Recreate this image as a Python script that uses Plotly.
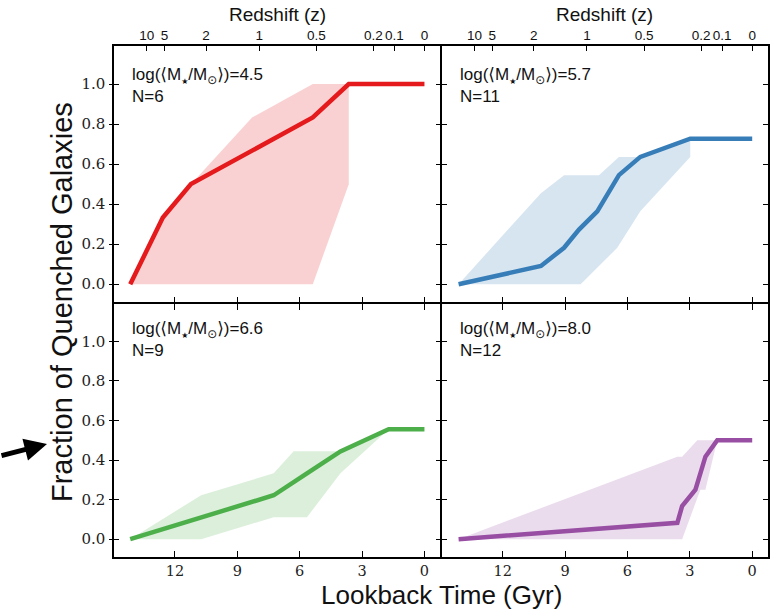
import plotly.graph_objects as go

# ---------------- data ----------------
# lookback time (Gyr) and quenched fraction for each mass bin
red_t = [14.15, 12.58, 11.23, 8.29, 5.37, 3.64, 0.0]
red_f = [0.0, 0.333, 0.5, 0.667, 0.833, 1.0, 1.0]
red_hi_t = [14.15, 12.58, 11.23, 8.29, 5.37, 3.64]
red_hi = [0.0, 0.333, 0.5, 0.833, 1.0, 1.0]
red_lo_t = [14.15, 5.37, 3.64]
red_lo = [0.0, 0.0, 0.5]

blue_t = [14.12, 10.16, 9.05, 8.33, 7.45, 6.41, 5.38, 2.98, 0.0]
blue_f = [0.0, 0.091, 0.182, 0.273, 0.364, 0.545, 0.636, 0.727, 0.727]
blue_hi_t = [14.12, 10.16, 9.05, 7.37, 6.41, 5.38, 2.98]
blue_hi = [0.0, 0.455, 0.545, 0.545, 0.636, 0.636, 0.727]
blue_lo_t = [14.12, 8.25, 6.49, 5.38, 2.98]
blue_lo = [0.0, 0.0, 0.182, 0.364, 0.636]

green_t = [14.15, 10.7, 7.25, 5.65, 4.04, 1.72, 0.0]
green_f = [0.0, 0.111, 0.222, 0.333, 0.444, 0.556, 0.556]
green_hi_t = [14.15, 10.74, 7.25, 6.29, 4.04, 1.72]
green_hi = [0.0, 0.222, 0.333, 0.444, 0.444, 0.556]
green_lo_t = [14.15, 10.74, 7.25, 5.65, 4.04, 1.72]
green_lo = [0.0, 0.0, 0.111, 0.111, 0.333, 0.556]

purple_t = [14.12, 3.6, 3.37, 2.73, 2.25, 1.68, 0.0]
purple_f = [0.0, 0.083, 0.167, 0.25, 0.417, 0.5, 0.5]
purple_hi_t = [14.12, 3.6, 3.37, 2.64, 1.68]
purple_hi = [0.0, 0.417, 0.417, 0.5, 0.5]
purple_lo_t = [14.12, 3.37, 2.49, 2.25, 1.68]
purple_lo = [0.0, 0.0, 0.25, 0.25, 0.5]

STAR = "<span style='font-size:8px'>★</span>"
panel_masses = ["4.5", "5.7", "6.6", "8.0"]
panel_counts = ["6", "11", "9", "12"]

lookback_ticks = [12, 9, 6, 3, 0]
frac_ticks = [0.0, 0.2, 0.4, 0.6, 0.8, 1.0]
frac_labels = ["0.0", "0.2", "0.4", "0.6", "0.8", "1.0"]
z_tick_t = [13.35, 12.5, 10.5, 7.95, 5.2, 2.45, 1.45, 0.0]
z_tick_labels = ["10", "5", "2", "1", "0.5", "0.2", "0.1", "0"]

colors = ["#e41a1c", "#377eb8", "#4daf4a", "#984ea3"]
fills = ["rgba(228,26,28,0.2)", "rgba(55,126,184,0.2)",
         "rgba(77,175,74,0.2)", "rgba(152,78,163,0.2)"]

# ---------------- geometry ----------------
W, H = 778, 611
LW = 1.5
xl0, xm, xr1 = 114, 441, 768
yt0, ym, yb1 = 46, 303, 557
xdoms = [[xl0 / W, (xm - LW / 2) / W], [(xm + LW / 2) / W, xr1 / W]]
ydoms = [[1 - (ym - LW / 2) / H, 1 - yt0 / H], [1 - yb1 / H, 1 - (ym + LW / 2) / H]]
XR = [14.93, -0.76]
YR = [-0.09, 1.19]

fig = go.Figure()

series = [
    (red_t, red_f, red_hi_t, red_hi, red_lo_t, red_lo),
    (blue_t, blue_f, blue_hi_t, blue_hi, blue_lo_t, blue_lo),
    (green_t, green_f, green_hi_t, green_hi, green_lo_t, green_lo),
    (purple_t, purple_f, purple_hi_t, purple_hi, purple_lo_t, purple_lo),
]

for i, (lt, lf, ht, hv, lot, lov) in enumerate(series):
    xa = "x" if i == 0 else f"x{i+1}"
    ya = "y" if i == 0 else f"y{i+1}"
    poly_x = list(ht) + list(reversed(lot))
    poly_y = list(hv) + list(reversed(lov))
    fig.add_trace(go.Scatter(x=poly_x, y=poly_y, fill="toself", fillcolor=fills[i],
                             line=dict(width=0), mode="lines", hoverinfo="skip",
                             showlegend=False, xaxis=xa, yaxis=ya))
    fig.add_trace(go.Scatter(x=lt, y=lf, mode="lines",
                             line=dict(color=colors[i], width=4.5),
                             showlegend=False, xaxis=xa, yaxis=ya))

serif = dict(family="DejaVu Serif", size=15, color="#222")
serif_x = dict(family="DejaVu Serif", size=14.5, color="#222")
sans = "Liberation Sans, Arial, Helvetica, DejaVu Sans"

layout = dict(width=W, height=H, margin=dict(l=0, r=0, t=0, b=0),
              paper_bgcolor="white", plot_bgcolor="white", showlegend=False)

for i in range(4):
    col = i % 2
    row = i // 2
    xk = "xaxis" if i == 0 else f"xaxis{i+1}"
    yk = "yaxis" if i == 0 else f"yaxis{i+1}"
    ya_id = "y" if i == 0 else f"y{i+1}"
    xa_id = "x" if i == 0 else f"x{i+1}"
    layout[xk] = dict(domain=xdoms[col], range=XR, anchor=ya_id,
                      showgrid=False, zeroline=False, showline=True,
                      linecolor="black", linewidth=LW,
                      mirror=("ticks" if row == 1 else True),
                      ticks="inside", ticklen=6, tickwidth=1.2, tickcolor="black",
                      tickvals=lookback_ticks,
                      ticktext=[str(v) for v in lookback_ticks],
                      showticklabels=(row == 1), tickfont=serif_x,
                      tickangle=0, ticklabelstandoff=0)
    layout[yk] = dict(domain=ydoms[row], range=YR, anchor=xa_id,
                      showgrid=False, zeroline=False, showline=True,
                      linecolor="black", linewidth=LW, mirror="ticks",
                      ticks="inside", ticklen=5, tickwidth=1.2, tickcolor="black",
                      tickvals=frac_ticks, ticktext=frac_labels,
                      showticklabels=(col == 0), tickfont=serif,
                      ticklabelstandoff=4)
    # outside part of the crossing y ticks
    yo = f"yaxis{i+5}"
    layout[yo] = dict(overlaying=ya_id, anchor=xa_id, side="left", range=YR,
                      showgrid=False, zeroline=False, showline=False,
                      ticks="outside", ticklen=4, tickwidth=1.2, tickcolor="black",
                      tickvals=frac_ticks, showticklabels=False)
    fig.add_trace(go.Scatter(x=[0], y=[0], mode="markers", marker=dict(opacity=0),
                             hoverinfo="skip", showlegend=False,
                             xaxis=xa_id, yaxis=f"y{i+5}"))

# top redshift axes
for j, base in enumerate(["x", "x2"]):
    key = f"xaxis{j+5}"
    layout[key] = dict(overlaying=base, anchor=("y" if j == 0 else "y2"), side="top",
                       range=XR, showgrid=False, zeroline=False, showline=False,
                       ticks="inside", ticklen=5, tickwidth=1.2, tickcolor="black",
                       tickvals=z_tick_t, ticktext=z_tick_labels, tickangle=0,
                       ticklabelstandoff=2,
                       tickfont=dict(family=sans, size=13.5, color="#111"))
    fig.add_trace(go.Scatter(x=[0], y=[0], mode="markers", marker=dict(opacity=0),
                             hoverinfo="skip", showlegend=False,
                             xaxis=f"x{j+5}", yaxis=("y" if j == 0 else "y2")))

fig.update_layout(**layout)

ann = []
label_pos = [(130, 63), (458, 63), (130, 317), (458, 317)]
for (px, py), m, n in zip(label_pos, panel_masses, panel_counts):
    txt = f"log(⟨M<sub>{STAR}</sub>/M<sub>⊙</sub>⟩)={m}<br>N={n}"
    ann.append(dict(x=px / W, y=1 - py / H, xref="paper", yref="paper",
                    xanchor="left", yanchor="top", showarrow=False, align="left",
                    text=txt, font=dict(family=sans, size=17, color="#111")))
for cx in [(xl0 + xm) / 2, (xm + xr1) / 2]:
    ann.append(dict(x=cx / W, y=1 - 14 / H, xref="paper", yref="paper",
                    xanchor="center", yanchor="middle", showarrow=False,
                    text="Redshift (z)", font=dict(family=sans, size=19, color="#111")))
ann.append(dict(x=62 / W, y=1 - 302 / H, xref="paper", yref="paper",
                xanchor="center", yanchor="middle", showarrow=False, textangle=-90,
                text="Fraction of Quenched Galaxies",
                font=dict(family=sans, size=29, color="#111")))
ann.append(dict(x=441 / W, y=0, xref="paper", yref="paper",
                xanchor="center", yanchor="bottom", showarrow=False,
                text="Lookback Time (Gyr)", borderpad=0,
                font=dict(family=sans, size=26, color="#111")))
ann.append(dict(x=47 / W, y=1 - 444 / H, xref="paper", yref="paper",
                showarrow=True, text="", ax=-52, ay=12,
                arrowhead=2, arrowsize=0.9, arrowwidth=5, arrowcolor="black",
                standoff=0))
fig.update_layout(annotations=ann)

fig.write_html("out.html")
